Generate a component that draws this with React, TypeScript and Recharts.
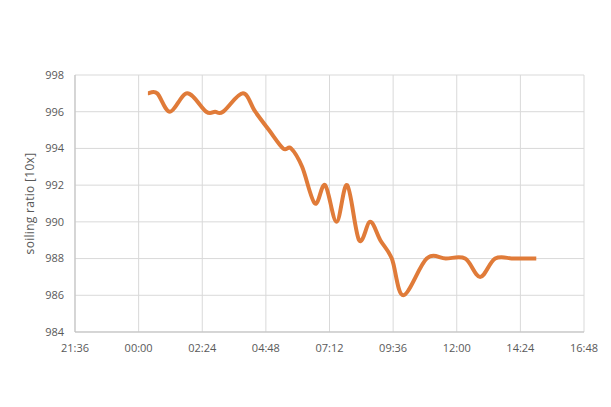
import React from "react";
import { LineChart, Line, XAxis, YAxis, CartesianGrid } from "recharts";

// time in minutes after 00:00
const times = [21, 42, 71, 110, 153, 173, 191, 236, 264, 295, 327, 345, 370, 399, 422, 448, 472, 499, 524, 547, 573, 599, 652, 695, 739, 773, 807, 850, 900];
const ratios = [997, 997, 996, 997, 996, 996, 996, 997, 996, 995, 994, 994, 993, 991, 992, 990, 992, 989, 990, 989, 988, 986, 988, 988, 988, 987, 988, 988, 988];

const xTicks = [-144, 0, 144, 288, 432, 576, 720, 864, 1008];
const yTicks = [984, 986, 988, 990, 992, 994, 996, 998];

const data = times.map((t, i) => ({ t, v: ratios[i] }));

const fmt = (m: number) => {
  const mm = ((m % 1440) + 1440) % 1440;
  const h = Math.floor(mm / 60);
  const mi = mm % 60;
  return `${String(h).padStart(2, "0")}:${String(mi).padStart(2, "0")}`;
};

// Excel-like smoothed line (Catmull-Rom through the points)
const smoothCurve = (context: any) => {
  let pts: number[][] = [];
  return {
    areaStart() {},
    areaEnd() {},
    lineStart() {
      pts = [];
    },
    point(x: number, y: number) {
      pts.push([+x, +y]);
    },
    lineEnd() {
      const n = pts.length;
      if (!n) return;
      context.moveTo(pts[0][0], pts[0][1]);
      for (let i = 0; i < n - 1; i++) {
        const p0 = pts[i - 1] || pts[i];
        const p1 = pts[i];
        const p2 = pts[i + 1];
        const p3 = pts[i + 2] || p2;
        const c1x = p1[0] + (p2[0] - p0[0]) / 6;
        const c1y = p1[1] + (p2[1] - p0[1]) / 6;
        const c2x = p2[0] - (p3[0] - p1[0]) / 6;
        const c2y = p2[1] - (p3[1] - p1[1]) / 6;
        context.bezierCurveTo(c1x, c1y, c2x, c2y, p2[0], p2[1]);
      }
    },
  };
};

export default function App() {
  const tickStyle = { fill: "#595959", fontSize: 11, fontFamily: "Open Sans, sans-serif" };
  return (
    <div style={{ position: "absolute", left: 0, top: 0, width: 611, height: 407, background: "#fff" }}>
      <LineChart width={611} height={407} data={data} margin={{ top: 75, right: 27, bottom: 45, left: 0 }}>
        <CartesianGrid stroke="#d9d9d9" strokeWidth={1} />
        <XAxis
          dataKey="t"
          type="number"
          domain={[-144, 1008]}
          ticks={xTicks}
          tickFormatter={fmt}
          tick={tickStyle}
          tickLine={false}
          axisLine={{ stroke: "#bfbfbf" }}
          height={30}
          tickMargin={6}
          interval={0}
        />
        <YAxis
          type="number"
          domain={[984, 998]}
          ticks={yTicks}
          tick={tickStyle}
          tickLine={false}
          axisLine={{ stroke: "#bfbfbf" }}
          width={75}
          tickMargin={5}
          interval={0}
          label={{ value: "soiling ratio [10x]", angle: -90, position: "insideLeft", offset: 30, style: { fill: "#595959", fontSize: 12, letterSpacing: 0.3, fontFamily: "Open Sans, sans-serif", textAnchor: "middle" } }}
        />
        <Line type={smoothCurve as any} dataKey="v" stroke="#E07B39" strokeWidth={4} dot={false} isAnimationActive={false} />
      </LineChart>
    </div>
  );
}
